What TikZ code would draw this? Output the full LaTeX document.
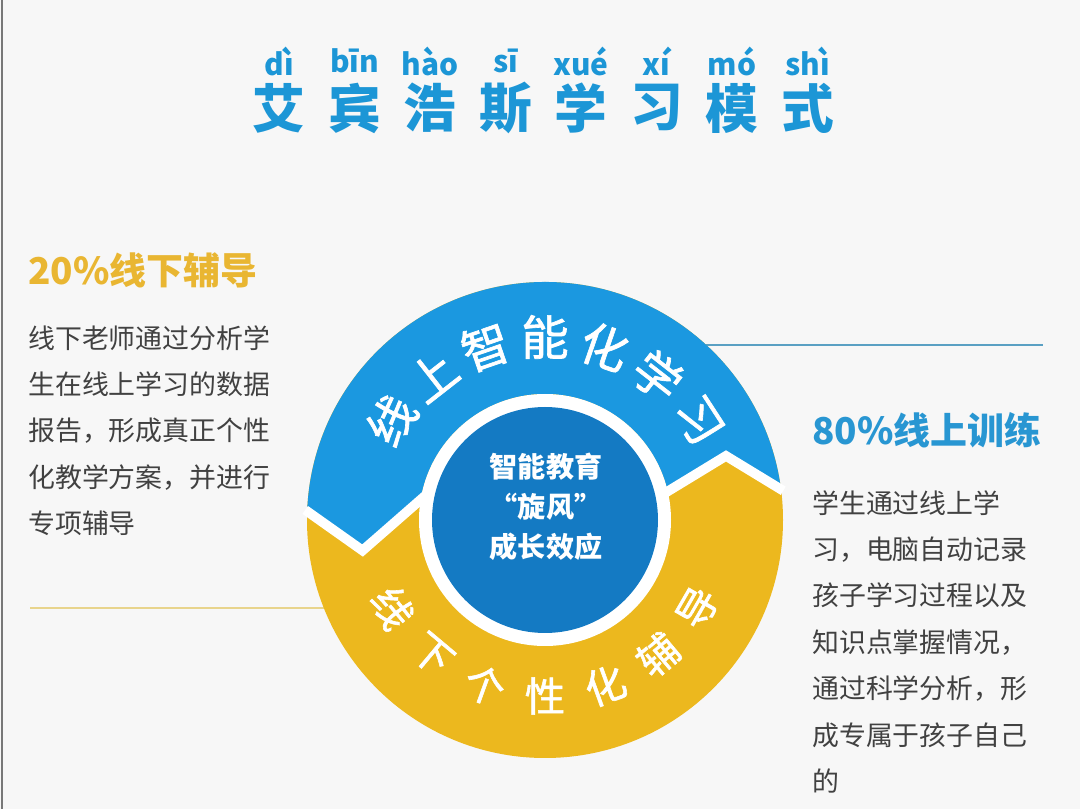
\documentclass[tikz,border=0pt]{standalone}
\usepackage{fontspec}
\setmainfont{Noto Sans CJK SC}
\newfontfamily\ringfont[FakeBold=1.4]{Noto Sans CJK SC}
\usepackage{xcolor}
\usepackage{tikz}
\usetikzlibrary{calc}
\definecolor{paper}{RGB}{247, 247, 247}
\definecolor{edgegray}{RGB}{120, 120, 120}
\definecolor{titleblue}{RGB}{28, 150, 214}
\definecolor{ringblue}{RGB}{27, 152, 224}
\definecolor{coreblue}{RGB}{20, 122, 195}
\definecolor{ringyellow}{RGB}{236, 184, 30}
\definecolor{headyellow}{RGB}{233, 182, 50}
\definecolor{headblue}{RGB}{40, 150, 210}
\definecolor{bodygray}{RGB}{65, 65, 65}
\definecolor{lineyellow}{RGB}{232, 212, 140}
\definecolor{lineblue}{RGB}{90, 160, 195}

\begin{document}
\begin{tikzpicture}[x=0.02cm,y=0.02cm,
  head/.style={anchor=west,inner sep=0pt,font=\bfseries\fontsize{21}{21}\selectfont},
  body/.style={anchor=north west,inner sep=0pt,align=left,text=bodygray,font=\fontsize{15.3}{26.4}\selectfont},
  ringtext/.style={text=white,inner sep=0pt}]
\useasboundingbox (0,0) rectangle (1080,809);
\fill[paper] (0,0) rectangle (1080,809);
\draw[edgegray,line width=1.2pt] (2,0) -- (2,809);
% title with pinyin
\foreach \h/\p [count=\i] in {艾/dì,宾/bīn,浩/hào,斯/sī,学/xué,习/xí,模/mó,式/shì}{
  \node[titleblue,font=\bfseries\fontsize{30}{30}\selectfont] (t\i) at ({279+(\i-1)*75.5},701) {\h};
  \node[titleblue,font=\bfseries\fontsize{17}{17}\selectfont] (py\i) at ({279+(\i-1)*75.5},748) {\p};
}
% side texts
\node[head,headyellow] (lhead) at (28,539) {20\%线下辅导};
\node[body] (lbody) at (28,484) {线下老师通过分析学\\生在线上学习的数据\\报告，形成真正个性\\化教学方案，并进行\\专项辅导};
\node[head,headblue] (rhead) at (812,379) {80\%线上训练};
\node[body] (rbody) at (812,319) {学生通过线上学\\习，电脑自动记录\\孩子学习过程以及\\知识点掌握情况，\\通过科学分析，形\\成专属于孩子自己\\的};
% ring
\coordinate (C) at (545,289);
\coordinate (La) at (30,201);
\coordinate (Lb) at (350,201);
\coordinate (Ra) at (700,464);
\coordinate (Rb) at (1043,464);
\draw[lineyellow,line width=1.3pt] (La) -- (Lb);
\draw[lineblue,line width=1.3pt] (Ra) -- (Rb);
\fill[ringyellow] (C) circle (238);
\fill[ringblue] ($(C)+(7:238)$) arc[start angle=7,end angle=177.6,radius=238]
  -- ($(C)+(189.5:185)$) -- ($(C)+(168.4:126)$)
  arc[start angle=168.4,end angle=12.5,radius=126]
  -- ($(C)+(19.5:192)$) -- cycle;
\draw[white,line width=5.5pt,line join=miter] ($(C)+(177.6:240)$) -- ($(C)+(189.5:185)$) -- ($(C)+(168.4:122)$);
\draw[white,line width=5.5pt,line join=miter] ($(C)+(7:240)$) -- ($(C)+(19.5:192)$) -- ($(C)+(12.5:122)$);
\fill[white] (C) circle (126);
\fill[coreblue] (C) circle (113);
\node[text=white,align=center,font=\bfseries\fontsize{16}{22.7}\selectfont] (core) at ($(C)+(1,13)$) {智能教育\\“旋风”\\成长效应};
\foreach \c [count=\i] in {线,上,智,能,化,学,习}{
  \pgfmathsetmacro{\a}{147-(\i-1)*19}
  \node[ringtext,font=\ringfont\fontsize{27}{27}\selectfont,rotate=\a-90] (top\i) at ($(C)+(\a:183)$) {\c};
}
\foreach \c [count=\i] in {线,下,个,性,化,辅,导}{
  \pgfmathsetmacro{\a}{210+(\i-1)*20}
  \node[ringtext,font=\ringfont\fontsize{23}{23}\selectfont,rotate=\a+90] (bot\i) at ($(C)+(\a:176)$) {\c};
}
\end{tikzpicture}
\end{document}
